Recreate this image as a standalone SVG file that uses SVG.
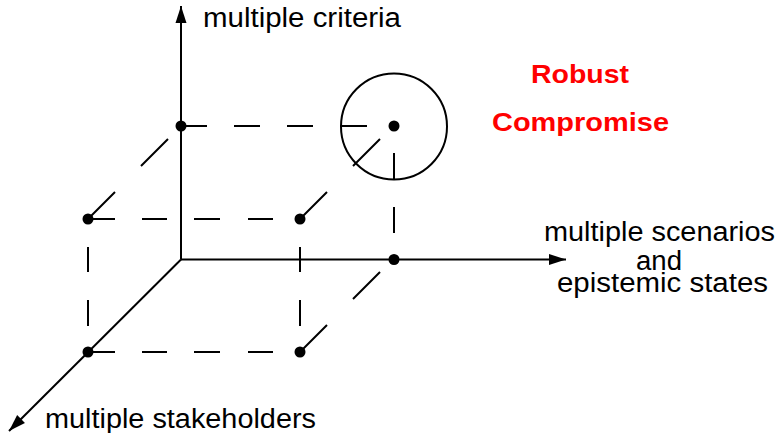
<svg xmlns="http://www.w3.org/2000/svg" width="784" height="433" viewBox="0 0 784 433">
<style>
.ax{stroke:#000;stroke-width:2;fill:none}
.d{stroke:#000;stroke-width:2;fill:none}
.dot{fill:#000}
.lbl{font-family:"Liberation Sans",Arial,Helvetica,sans-serif;font-size:27px;fill:#000}
.red{font-family:"Liberation Sans",Arial,Helvetica,sans-serif;font-size:26px;font-weight:bold;fill:#ff0000}
</style>
<defs>
<marker id="arr" markerUnits="userSpaceOnUse" markerWidth="20" markerHeight="14" viewBox="-18 -7 20 14" refX="0" refY="0" orient="auto">
<path d="M0,0 L-17,-5.5 L-17,5.5 Z" fill="#000"/>
</marker>
</defs>
<rect width="784" height="433" fill="#fff"/>
<g id="connectors">
<line class="ax" x1="181" y1="259.5" x2="181" y2="6" marker-end="url(#arr)"/>
<line class="ax" x1="181" y1="259.5" x2="566" y2="259.5" marker-end="url(#arr)"/>
<line class="ax" x1="181" y1="259.5" x2="9" y2="431" marker-end="url(#arr)"/>
<path class="d" d="M181,126H207M234,126H260M287,126H313M340,126H367"/>
<path class="d" d="M88,219H115M142,219H167M194,219H220M248,219H273"/>
<path class="d" d="M88,352H115M142,352H167M194,352H220M248,352H273"/>
<path class="d" d="M88,247V272M88,300V326"/>
<path class="d" d="M300,247V272M300,300V326"/>
<path class="d" d="M394,153V180M394,207V233"/>
<path class="d" d="M88,219L115,192M141,166L168,139"/>
<path class="d" d="M300,219L327,192M353,166L380,139"/>
<path class="d" d="M300,352L327,325M353,299L380,272"/>
</g>
<g id="compromise-circle"><circle cx="394" cy="126.5" r="53" class="ax"/></g>
<g id="p-criteria"><circle class="dot" cx="181" cy="126" r="5.5"/></g>
<g id="p-compromise"><circle class="dot" cx="394" cy="126" r="5.5"/></g>
<g id="p-scenarios"><circle class="dot" cx="394" cy="259.5" r="5.5"/></g>
<g id="p-back-left"><circle class="dot" cx="88" cy="219" r="5.5"/></g>
<g id="p-back-right"><circle class="dot" cx="300" cy="219" r="5.5"/></g>
<g id="p-stakeholders"><circle class="dot" cx="88" cy="352" r="5.5"/></g>
<g id="p-front-right"><circle class="dot" cx="300" cy="352" r="5.5"/></g>
<g id="label-criteria"><text class="lbl" x="203" y="27" textLength="198" lengthAdjust="spacingAndGlyphs">multiple criteria</text></g>
<g id="label-stakeholders"><text class="lbl" x="45" y="428" textLength="271" lengthAdjust="spacingAndGlyphs">multiple stakeholders</text></g>
<g id="label-scenarios">
<text class="lbl" x="544" y="241" textLength="231" lengthAdjust="spacingAndGlyphs">multiple scenarios</text>
<text class="lbl" x="636" y="270" textLength="46" lengthAdjust="spacingAndGlyphs">and</text>
<text class="lbl" x="557" y="292" textLength="211" lengthAdjust="spacingAndGlyphs">epistemic states</text>
</g>
<g id="label-robust">
<text class="red" x="531" y="83" textLength="98" lengthAdjust="spacingAndGlyphs">Robust</text>
<text class="red" x="492" y="131" textLength="177" lengthAdjust="spacingAndGlyphs">Compromise</text>
</g>
</svg>
